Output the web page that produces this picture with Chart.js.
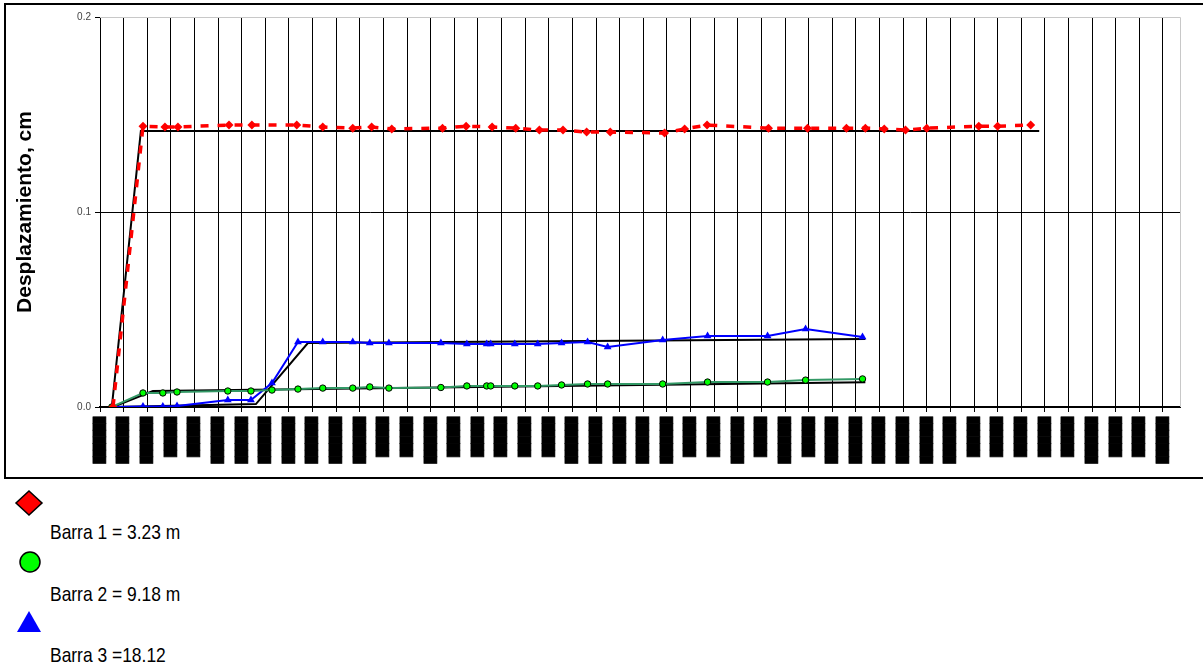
<!DOCTYPE html>
<html>
<head>
<meta charset="utf-8">
<script src="https://cdn.jsdelivr.net/npm/chart.js@4.4.0/dist/chart.umd.min.js"></script>
<style>
  body { margin: 0; background: #fff; width: 1203px; height: 667px; overflow: hidden; position: relative; }
  #marco { position: absolute; left: 4px; top: 3px; width: 1215px; height: 472px; border: 2px solid #000; }
  #grafica { position: absolute; left: 0; top: 0; }
  .ley { position: absolute; left: 50px; font-family: 'Liberation Sans Narrow', 'Liberation Sans', sans-serif; font-size: 21px; color: #000; line-height: 21px; transform: scaleX(0.83); transform-origin: left top; white-space: nowrap; }
  svg { position: absolute; left: 0; top: 480px; }
</style>
</head>
<body>
<div id="marco"></div>
<canvas id="grafica" width="1203" height="480"></canvas>
<svg width="60" height="170">
  <polygon points="29,11 42,23 29,35 16,23" fill="#ff0000" stroke="#000" stroke-width="1.5"/>
  <circle cx="30" cy="82" r="10" fill="#00ff00" stroke="#000" stroke-width="1.5"/>
  <polygon points="29,131 41,152 17,152" fill="#0000ff"/>
</svg>
<div class="ley" style="top:521px" id="ley0"></div>
<div class="ley" style="top:583px" id="ley1"></div>
<div class="ley" style="top:644px" id="ley2"></div>
<script>
// nombres de las series
var nombres = ["Barra 1 = 3.23 m", "Barra 2 = 9.18 m", "Barra 3 =18.12"];

// marcas del eje x (una por fecha) y sus etiquetas (se ven como barras negras)
var marcasX = [];
for (var i = 0; i <= 45; i++) marcasX.push(i);
var largoEtiq = [7,7,7,6,6,7,7,7,7,7,7,7,6,6,7,6,6,6,6,6,7,7,7,7,7,6,6,7,6,7,6,7,7,7,7,7,7,6,6,6,6,6,7,6,6,7];
var etiquetasX = largoEtiq.map(function(n) { return "\u2588".repeat(n); });
var marcasY = [0, 0.1, 0.2];

// Barra 1
var xRojo = [0.55, 1.82, 2.75, 3.3, 5.46, 6.43, 8.33, 9.43, 10.7, 11.5, 12.35, 14.5, 15.5, 16.6, 17.6, 18.6, 19.6, 20.6, 21.6, 23.9, 24.75, 25.7, 28.3, 29.95, 31.6, 32.4, 33.2, 34.1, 35.0, 37.2, 38.0, 39.4];
var vRojo = [0, 0.144, 0.1436, 0.1436, 0.1446, 0.1446, 0.1446, 0.1436, 0.143, 0.1436, 0.1426, 0.143, 0.144, 0.1436, 0.143, 0.142, 0.142, 0.141, 0.141, 0.1405, 0.1426, 0.1446, 0.143, 0.143, 0.143, 0.143, 0.1426, 0.142, 0.143, 0.144, 0.144, 0.1446];

// Barra 2 y Barra 3 (mismas fechas)
var xComun = [0.5, 1.82, 2.66, 3.26, 5.41, 6.39, 7.28, 8.38, 9.43, 10.7, 11.42, 12.23, 14.43, 15.53, 16.37, 16.54, 17.56, 18.53, 19.54, 20.64, 21.49, 23.82, 25.72, 28.26, 29.87, 32.28];
var vVerde = [0, 0.0072, 0.0072, 0.0077, 0.0082, 0.0082, 0.0087, 0.0092, 0.0097, 0.0097, 0.0103, 0.0097, 0.0100, 0.0108, 0.0108, 0.0108, 0.0108, 0.0108, 0.0113, 0.0118, 0.0118, 0.0118, 0.0128, 0.0128, 0.0138, 0.0144];
var vAzul = [0, 0.0003, 0.0003, 0.0005, 0.0036, 0.0036, 0.0123, 0.0333, 0.0333, 0.0333, 0.0328, 0.0328, 0.0328, 0.0323, 0.0323, 0.0323, 0.0323, 0.0323, 0.0328, 0.0333, 0.0308, 0.0344, 0.0364, 0.0364, 0.040, 0.0359];

// lineas de tendencia negras
var xNegro1 = [0.5, 1.73, 39.76], vNegro1 = [0, 0.1415, 0.1415];
var xNegro2 = [0.55, 2.24, 32.4], vNegro2 = [0, 0.0082, 0.0127];
var xNegro3 = [0.55, 6.6, 8.8, 32.4], vNegro3 = [0, 0.0015, 0.0328, 0.0349];

function pares(xs, vs) {
  return xs.map(function(x, i) { return {x: x, y: vs[i]}; });
}

nombres.forEach(function(n, i) { document.getElementById("ley" + i).textContent = n; });

// borde gris del area de trazado (arriba y derecha)
var bordeArea = {
  id: 'bordeArea',
  beforeDatasetsDraw: function(chart) {
    var a = chart.chartArea, c = chart.ctx;
    c.save();
    c.strokeStyle = '#c8c8c8';
    c.lineWidth = 1;
    c.beginPath();
    c.moveTo(a.left, a.top + 0.5);
    c.lineTo(a.right + 0.5, a.top + 0.5);
    c.lineTo(a.right + 0.5, a.bottom);
    c.stroke();
    c.restore();
  }
};

function negro(xs, vs) {
  return { data: pares(xs, vs), borderColor: '#000', borderWidth: 2, pointRadius: 0, fill: false, tension: 0 };
}

var ctx = document.getElementById('grafica');
var myChart = new Chart(ctx, {
  type: 'line',
  data: {
    datasets: [
      { label: nombres[0], data: pares(xRojo, vRojo), borderColor: '#ff0000', borderWidth: 3.5, borderDash: [8, 9],
        pointStyle: 'rectRot', pointRadius: 4.5, pointBackgroundColor: '#ff0000', pointBorderWidth: 0, fill: false },
      { label: nombres[1], data: pares(xComun, vVerde), borderColor: '#339966', borderWidth: 2,
        pointStyle: 'circle', pointRadius: 3.2, pointBackgroundColor: '#00ff00', pointBorderColor: '#000', pointBorderWidth: 1, fill: false },
      { label: nombres[2], data: pares(xComun, vAzul), borderColor: '#0000ff', borderWidth: 2,
        pointStyle: 'triangle', pointRadius: 4.5, pointBackgroundColor: '#0000ff', pointBorderColor: '#0000ff', pointBorderWidth: 0, fill: false },
      negro(xNegro1, vNegro1),
      negro(xNegro2, vNegro2),
      negro(xNegro3, vNegro3)
    ]
  },
  options: {
    responsive: false,
    animation: false,
    layout: { padding: { left: 10, top: 17, right: 23, bottom: 0 } },
    plugins: { legend: { display: false }, tooltip: { enabled: false } },
    scales: {
      x: {
        type: 'linear', min: 0, max: 45.72,
        afterBuildTicks: function(s) { s.ticks = marcasX.map(function(v) { return {value: v}; }); },
        afterFit: function(s) { s.height = 73; },
        grid: { color: '#000', lineWidth: 1, tickLength: 5 },
        border: { color: '#000', width: 2 },
        ticks: { autoSkip: false, minRotation: 90, maxRotation: 90, padding: 5, color: '#000',
          textStrokeColor: '#000', textStrokeWidth: 0.6,
          font: { family: 'DejaVu Sans Mono', size: 11 },
          callback: function(v, i) { return etiquetasX[i]; } }
      },
      y: {
        min: 0, max: 0.2,
        afterBuildTicks: function(s) { s.ticks = marcasY.map(function(v) { return {value: v}; }); },
        afterFit: function(s) { s.width = 90; },
        grid: { color: function(c) { return c.tick && c.tick.value >= 0.2 ? '#c8c8c8' : '#000'; }, tickColor: '#000', tickLength: 5 },
        border: { color: '#000', width: 1 },
        ticks: { padding: 4, color: '#444', font: { family: 'Liberation Sans', size: 10 },
          callback: function(v) { return v.toFixed(1); } },
        title: { display: true, text: 'Desplazamiento, cm', color: '#000',
          font: { family: 'Liberation Sans', size: 21, weight: 'bold' }, padding: { top: 3, bottom: 0 } }
      }
    }
  },
  plugins: [bordeArea]
});
</script>
</body>
</html>
